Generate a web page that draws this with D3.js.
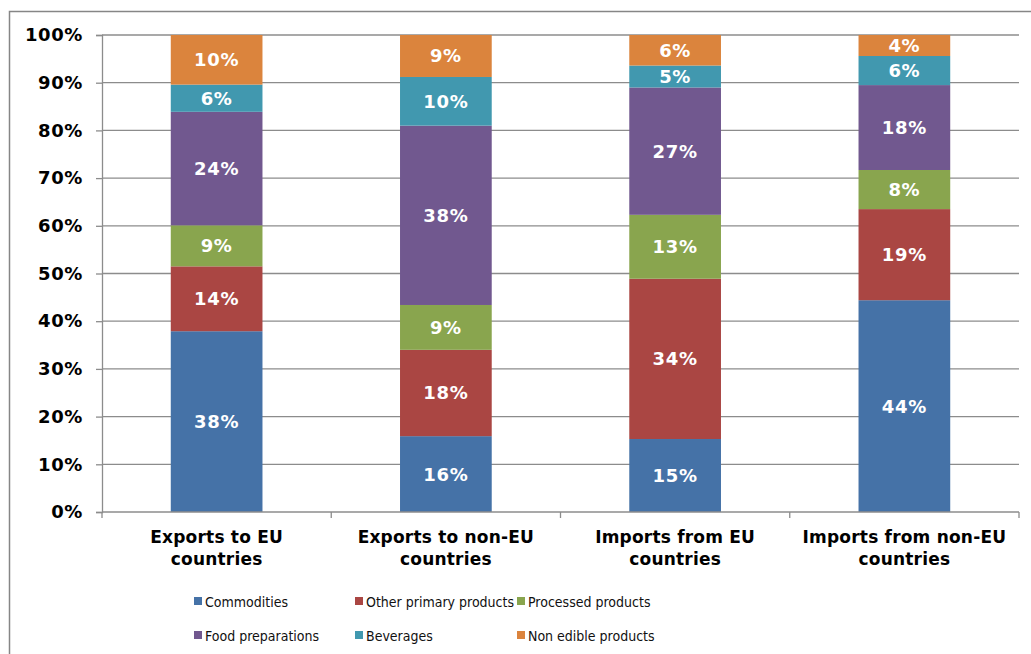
<!DOCTYPE html>
<html>
<head>
<meta charset="utf-8">
<script src="https://cdn.jsdelivr.net/npm/d3@7"></script>
<style>
  body { margin: 0; background: #fff; }
  svg { display: block; }
</style>
</head>
<body>
<svg id="chart"></svg>
<script>
'use strict';

// categories (x axis, two lines each)
var categories = ['Exports to EU|countries', 'Exports to non-EU|countries',
  'Imports from EU|countries', 'Imports from non-EU|countries'];

var seriesNames = ['Commodities', 'Other primary products', 'Processed products',
  'Food preparations', 'Beverages', 'Non edible products'];

// shares in %, one value per category
var commodities = [37.9, 15.9, 15.3, 44.4];
var otherPrimary = [13.6, 18.1, 33.6, 19.1];
var processed = [8.6, 9.4, 13.4, 8.2];
var foodPrep = [23.8, 37.6, 26.7, 17.8];
var beverages = [5.7, 10.2, 4.6, 6.1];
var nonEdible = [10.4, 8.8, 6.4, 4.4];

var yTicks = [0, 10, 20, 30, 40, 50, 60, 70, 80, 90, 100];

var colors = ['#4572a7', '#aa4643', '#89a54e', '#71588f', '#4198af', '#db843d'];

var width = 1031,
  height = 654,
  margin = {top: 35, left: 102, right: 12, bottom: 142};

var svg = d3.select('#chart')
  .attr('width', width)
  .attr('height', height);

// outer chart frame (runs past the window on the right and bottom)
svg.append('rect')
  .attr('x', 9.5).attr('y', 11.5)
  .attr('width', 1040).attr('height', 680)
  .attr('fill', 'none')
  .attr('stroke', '#868686')
  .attr('stroke-width', 1.5);

var series = [commodities, otherPrimary, processed, foodPrep, beverages, nonEdible];
var table = categories.map(function (c, i) {
  var row = {cat: c};
  seriesNames.forEach(function (s, j) { row[s] = series[j][i]; });
  return row;
});
var stacked = d3.stack().keys(seriesNames)(table);

var x = d3.scaleBand()
  .domain(categories)
  .range([margin.left, width - margin.right])
  .paddingInner(0.6)
  .paddingOuter(0.3);
var xOuter = d3.scaleBand()
  .domain(categories)
  .range([margin.left, width - margin.right]);
var y = d3.scaleLinear()
  .domain([0, 100])
  .range([height - margin.bottom, margin.top]);

var g = svg.append('g');

// gridlines
g.append('g')
  .selectAll('line')
  .data(yTicks.filter(function (d) { return d > 0; }))
  .enter().append('line')
  .attr('x1', margin.left).attr('x2', width - margin.right)
  .attr('y1', function (d) { return y(d); })
  .attr('y2', function (d) { return y(d); })
  .attr('stroke', '#8c8c8c')
  .attr('stroke-width', 1.3);

// bars
g.selectAll('g.serie').data(stacked).enter()
  .append('g')
  .classed('serie', true)
  .attr('fill', function (d, i) { return colors[i]; })
  .each(function (s, j) {
    var sg = d3.select(this);
    sg.selectAll('rect').data(s).enter().append('rect')
      .attr('x', function (d) { return x(d.data.cat); })
      .attr('width', x.bandwidth())
      .attr('y', function (d) { return y(d[1]); })
      .attr('height', function (d) { return y(d[0]) - y(d[1]); });
    sg.selectAll('text').data(s).enter().append('text')
      .attr('x', function (d) { return x(d.data.cat) + x.bandwidth() / 2; })
      .attr('y', function (d) { return (y(d[0]) + y(d[1])) / 2; })
      .attr('dy', '0.36em')
      .attr('text-anchor', 'middle')
      .attr('fill', '#fff')
      .style('font', 'bold 18px "DejaVu Sans", Verdana, sans-serif')
      .style('letter-spacing', '0.7px')
      .text(function (d, i) { return Math.round(series[j][i]) + '%'; });
  });

// y axis
var yAxis = d3.axisLeft(y)
  .tickValues(yTicks)
  .tickSize(6)
  .tickPadding(13)
  .tickFormat(function (d) { return d + '%'; });
var ya = g.append('g')
  .attr('transform', 'translate(' + margin.left + ',0)')
  .call(yAxis);
ya.select('.domain').attr('stroke', '#8c8c8c').attr('stroke-width', 1.3);
ya.selectAll('.tick line').attr('stroke', '#8c8c8c').attr('stroke-width', 1.3);
ya.selectAll('.tick text')
  .attr('fill', '#000')
  .style('font', 'bold 18px "DejaVu Sans", Verdana, sans-serif')
  .style('letter-spacing', '0.6px');

// x axis: baseline plus ticks at category boundaries
var base = height - margin.bottom;
g.append('line')
  .attr('x1', margin.left).attr('x2', width - margin.right)
  .attr('y1', base).attr('y2', base)
  .attr('stroke', '#8c8c8c').attr('stroke-width', 1.3);
var bounds = categories.map(function (c) { return xOuter(c); })
  .concat([width - margin.right]);
g.append('g').selectAll('line').data(bounds).enter().append('line')
  .attr('x1', function (d) { return d; }).attr('x2', function (d) { return d; })
  .attr('y1', base).attr('y2', base + 6)
  .attr('stroke', '#8c8c8c').attr('stroke-width', 1.3);

g.append('g').selectAll('text').data(categories).enter().append('text')
  .attr('text-anchor', 'middle')
  .attr('fill', '#000')
  .style('font', 'bold 17px "DejaVu Sans", Verdana, sans-serif')
  .style('letter-spacing', '0.2px')
  .each(function (c) {
    var t = d3.select(this);
    var cx = xOuter(c) + xOuter.bandwidth() / 2;
    c.split('|').forEach(function (line, k) {
      t.append('tspan')
        .attr('x', cx)
        .attr('y', 543 + k * 22)
        .text(line);
    });
  });

// legend, 3 columns x 2 rows
var legendCols = [194, 355, 517];
var legendRows = [607, 641];
var lg = svg.append('g').selectAll('g').data(seriesNames).enter().append('g')
  .attr('transform', function (d, i) {
    return 'translate(' + legendCols[i % 3] + ',' + legendRows[Math.floor(i / 3)] + ')';
  });
lg.append('rect')
  .attr('x', 0).attr('y', -10)
  .attr('width', 8).attr('height', 8)
  .attr('fill', function (d, i) { return colors[i]; });
lg.append('text')
  .attr('x', 11).attr('y', 0)
  .attr('fill', '#111')
  .style('font', '14px "DejaVu Sans Condensed", "DejaVu Sans", sans-serif')
  .style('font-stretch', 'condensed')
  .text(function (d) { return d; });
</script>
</body>
</html>
